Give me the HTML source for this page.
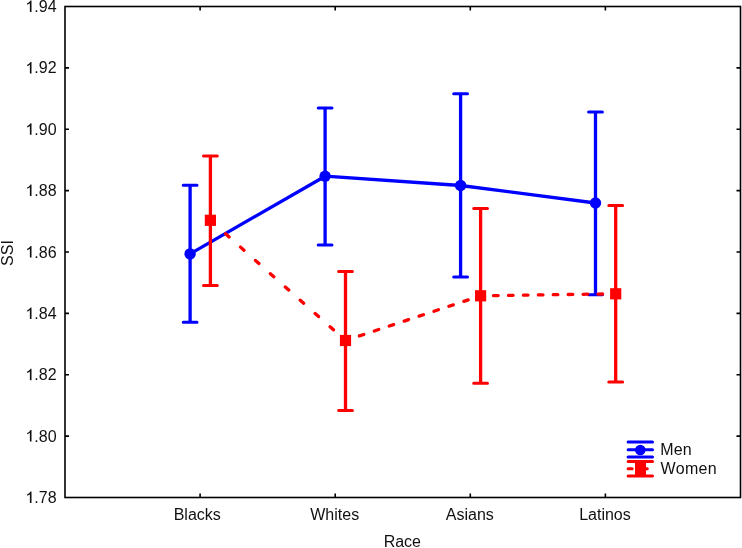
<!DOCTYPE html><html><head><meta charset="utf-8"><style>html,body{margin:0;padding:0;background:#fff;overflow:hidden;width:742px;height:548px;}svg{display:block;} text{font-family:"Liberation Sans",sans-serif;font-size:16px;fill:#111;}</style></head><body>
<div style="will-change:transform;width:742px;height:548px">
<svg width="742" height="548" viewBox="0 0 742 548">
<rect x="65" y="6.5" width="675.5" height="491" fill="none" stroke="#000" stroke-width="1.6"/>
<text x="34.36" y="12">.94</text>
<text x="34.36" y="73.38">.92</text>
<text x="34.36" y="134.75">.90</text>
<text x="34.36" y="196.12">.88</text>
<text x="34.36" y="257.5">.86</text>
<text x="34.36" y="318.88">.84</text>
<text x="34.36" y="380.25">.82</text>
<text x="34.36" y="441.62">.80</text>
<text x="34.36" y="503">.78</text>
<path d="M65 67.88H69M740.5 67.88H736.5M65 129.25H69M740.5 129.25H736.5M65 190.62H69M740.5 190.62H736.5M65 252H69M740.5 252H736.5M65 313.38H69M740.5 313.38H736.5M65 374.75H69M740.5 374.75H736.5M65 436.12H69M740.5 436.12H736.5M200.1 497.5V493.5M200.1 6.5V10.5M335.2 497.5V493.5M335.2 6.5V10.5M470.3 497.5V493.5M470.3 6.5V10.5M605.4 497.5V493.5M605.4 6.5V10.5" stroke="#000" stroke-width="1.6" fill="none"/>
<g fill="#111"><path transform="translate(25.46 12) scale(0.0078125 -0.0078125)" d="M775 0H565V1130C525 1094 473 1060 413 1024C343 983 280 952 223 931V1105C324 1152 412 1210 487 1277C562 1344 615 1409 646 1472H775Z"/><path transform="translate(25.46 73.38) scale(0.0078125 -0.0078125)" d="M775 0H565V1130C525 1094 473 1060 413 1024C343 983 280 952 223 931V1105C324 1152 412 1210 487 1277C562 1344 615 1409 646 1472H775Z"/><path transform="translate(25.46 134.75) scale(0.0078125 -0.0078125)" d="M775 0H565V1130C525 1094 473 1060 413 1024C343 983 280 952 223 931V1105C324 1152 412 1210 487 1277C562 1344 615 1409 646 1472H775Z"/><path transform="translate(25.46 196.12) scale(0.0078125 -0.0078125)" d="M775 0H565V1130C525 1094 473 1060 413 1024C343 983 280 952 223 931V1105C324 1152 412 1210 487 1277C562 1344 615 1409 646 1472H775Z"/><path transform="translate(25.46 257.5) scale(0.0078125 -0.0078125)" d="M775 0H565V1130C525 1094 473 1060 413 1024C343 983 280 952 223 931V1105C324 1152 412 1210 487 1277C562 1344 615 1409 646 1472H775Z"/><path transform="translate(25.46 318.88) scale(0.0078125 -0.0078125)" d="M775 0H565V1130C525 1094 473 1060 413 1024C343 983 280 952 223 931V1105C324 1152 412 1210 487 1277C562 1344 615 1409 646 1472H775Z"/><path transform="translate(25.46 380.25) scale(0.0078125 -0.0078125)" d="M775 0H565V1130C525 1094 473 1060 413 1024C343 983 280 952 223 931V1105C324 1152 412 1210 487 1277C562 1344 615 1409 646 1472H775Z"/><path transform="translate(25.46 441.62) scale(0.0078125 -0.0078125)" d="M775 0H565V1130C525 1094 473 1060 413 1024C343 983 280 952 223 931V1105C324 1152 412 1210 487 1277C562 1344 615 1409 646 1472H775Z"/><path transform="translate(25.46 503) scale(0.0078125 -0.0078125)" d="M775 0H565V1130C525 1094 473 1060 413 1024C343 983 280 952 223 931V1105C324 1152 412 1210 487 1277C562 1344 615 1409 646 1472H775Z"/></g>
<text x="173.7" y="520">Blacks</text>
<text x="310.25" y="520">Whites</text>
<text x="445.8" y="520">Asians</text>
<text x="579.15" y="520">Latinos</text>
<text x="383.65" y="547">Race</text>
<text transform="translate(12.5 253) rotate(-90)" text-anchor="middle">SSI</text>
<polyline points="190.1,253.9 325.1,176.2 460.6,185.5 595.5,203" stroke="#0000ff" stroke-width="3.3" fill="none" stroke-linejoin="round"/>
<path d="M190.1 185.3V322.2M325.1 108V245M460.6 93.8V276.9M595.5 111.9V294.75" stroke="#0000ff" stroke-width="3.3" fill="none"/><path d="M183.2 185.3H197M183.2 322.2H197M318.2 108H332M318.2 245H332M453.7 93.8H467.5M453.7 276.9H467.5M588.6 111.9H602.4M588.6 294.75H602.4" stroke="#0000ff" stroke-width="3" stroke-linecap="round" fill="none"/>
<circle cx="190.1" cy="253.9" r="5.7" fill="#0000ff"/>
<circle cx="325.1" cy="176.2" r="5.7" fill="#0000ff"/>
<circle cx="460.6" cy="185.5" r="5.7" fill="#0000ff"/>
<circle cx="595.5" cy="203" r="5.7" fill="#0000ff"/>
<path d="M225.63 233.85L229.07 236.91M240.55 247.12L243.98 250.18M255.47 260.4L258.9 263.45M270.38 273.67L273.82 276.73M285.3 286.94L288.74 290M300.22 300.21L303.66 303.27M315.14 313.49L318.57 316.54M330.06 326.76L333.49 329.82M344.51 340.83L348.88 339.38M359.43 335.89L363.79 334.45M374.34 330.96L378.71 329.51M389.26 326.02L393.63 324.58M404.18 321.08L408.55 319.64M419.1 316.15L423.47 314.7M434.02 311.21L438.38 309.77M448.93 306.28L453.3 304.83M463.85 301.34L468.22 299.9M478.65 295.83L483.25 295.76M493.57 295.61L498.17 295.54M508.49 295.39L513.09 295.32M523.41 295.17L528.01 295.1M538.33 294.95L542.93 294.88M553.24 294.72L557.84 294.66M568.16 294.5L572.76 294.44M583.08 294.28L587.68 294.21M598 294.06L602.6 293.99M612.92 293.84L617.52 293.77" stroke="#ff0000" stroke-width="3.3" stroke-linecap="round" stroke-linejoin="round" fill="none"/>
<path d="M210.4 156.1V285.6M345.5 271.5V410.5M480.6 208.5V383.3M615.7 205.6V382.1" stroke="#ff0000" stroke-width="3.3" fill="none"/><path d="M203.5 156.1H217.3M203.5 285.6H217.3M338.6 271.5H352.4M338.6 410.5H352.4M473.7 208.5H487.5M473.7 383.3H487.5M608.8 205.6H622.6M608.8 382.1H622.6" stroke="#ff0000" stroke-width="3" stroke-linecap="round" fill="none"/>
<rect x="204.8" y="214.7" width="11.2" height="11.2" fill="#ff0000"/>
<rect x="339.9" y="334.9" width="11.2" height="11.2" fill="#ff0000"/>
<rect x="475" y="290.2" width="11.2" height="11.2" fill="#ff0000"/>
<rect x="610.1" y="288.2" width="11.2" height="11.2" fill="#ff0000"/>
<path d="M628.1 442H652.5M628.1 449.8H652.5M628.1 457H652.5" stroke="#0000ff" stroke-width="3" stroke-linecap="round"/>
<circle cx="640.3" cy="450" r="5.3" fill="#0000ff"/>
<path d="M628.1 461.4H652.5M628.1 476.1H652.5M628.1 468.7H632.2M642 468.7H647.3M640.3 461.4V476.1" stroke="#ff0000" stroke-width="3" stroke-linecap="round"/>
<rect x="635" y="462.4" width="11" height="12.6" fill="#ff0000"/>
<text x="660.2" y="454.9" letter-spacing="0.15">Men</text>
<text x="660.6" y="473.7" letter-spacing="0.3">Women</text>
</svg></div></body></html>
